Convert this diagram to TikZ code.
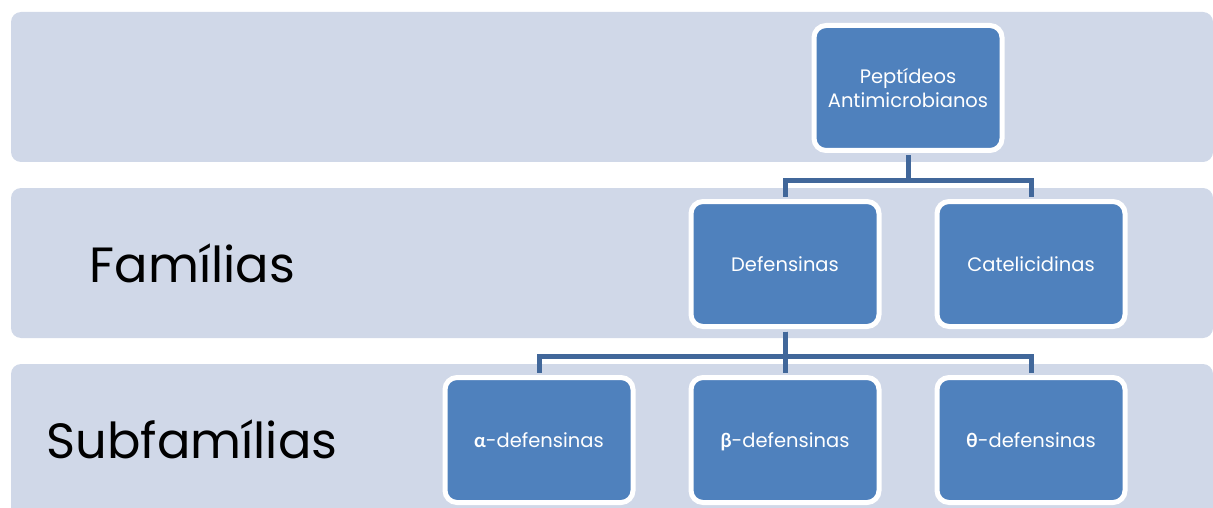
\documentclass[tikz,border=0pt]{standalone}
\usepackage{fontspec}
\setmainfont{Poppins}
\newfontfamily\greekfont{Lato}
\usetikzlibrary{calc}
\definecolor{band}{HTML}{D0D8E8}
\definecolor{boxblue}{HTML}{4F81BD}
\definecolor{linkblue}{HTML}{41679A}
\tikzset{
  bandbox/.style={fill=band, rounded corners=10pt},
  orgbox/.style={draw=white, line width=5pt, fill=boxblue, rounded corners=12pt,
    minimum width=188pt, minimum height=125pt, text=white, font=\fontsize{19.5}{24}\selectfont,
    align=center, inner sep=0pt},
  conn/.style={draw=linkblue, line width=5pt, shorten <=2.5pt, shorten >=2.5pt},
  bandlabel/.style={font=\fontsize{49.5}{58}\selectfont, text=black, inner sep=0pt}
}
\newcommand{\grk}[1]{{\greekfont\bfseries\smash{#1}}}
\begin{document}
\begin{tikzpicture}[x=1pt,y=-1pt]
\useasboundingbox (0,0) rectangle (1213,508);
\begin{scope}
\clip (0,0) rectangle (1213,508);
\fill[bandbox] (11,12) rectangle (1213,162);
\fill[bandbox] (11,188) rectangle (1213,338);
\fill[bandbox] (11,364) rectangle (1213,530);
\end{scope}
\node[bandlabel] (fam) at (192.5,263) {Famílias};
\node[bandlabel] (sub) at (192,439) {Subfamílias};
\node[orgbox] (top) at (908,88) {Peptídeos\\Antimicrobianos};
\node[orgbox] (def) at (785,264) {Defensinas};
\node[orgbox] (cat) at (1031,264) {Catelicidinas};
\node[orgbox] (alf) at (539,440) {\grk{α}-defensinas};
\node[orgbox] (bet) at (785,440) {\grk{β}-defensinas};
\node[orgbox] (the) at (1031,440) {\grk{θ}-defensinas};
\coordinate (j1) at ($(top.south)+(0,27)$);
\coordinate (j2) at ($(def.south)+(0,27)$);
\draw[conn] (top.south) -- (j1) -| (def.north);
\draw[conn] (top.south) -- (j1) -| (cat.north);
\draw[conn] (def.south) -- (j2) -| (alf.north);
\draw[conn] (def.south) -- (j2) -| (bet.north);
\draw[conn] (def.south) -- (j2) -| (the.north);
\end{tikzpicture}
\end{document}
